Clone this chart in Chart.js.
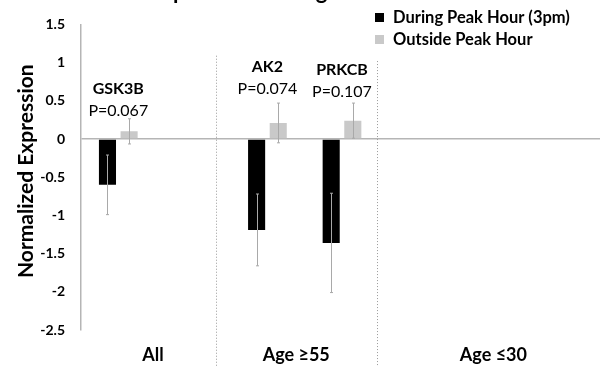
<!DOCTYPE html>
<html>
<head>
<meta charset="utf-8">
<script src="https://cdn.jsdelivr.net/npm/chart.js@4.4.1/dist/chart.umd.min.js"></script>
<style>
  html, body { margin: 0; padding: 0; background: #fff; overflow: hidden; }
  #wrap { position: relative; width: 603px; height: 367px; }
</style>
</head>
<body>
<div id="wrap"><canvas id="c"></canvas></div>
<script>
// Gene slots along the x axis (empty slots keep the spacing between groups)
const slots = ['GSK3B', '', 'AK2', 'PRKCB', '', '', ''];
const pValues = ['P=0.067', '', 'P=0.074', 'P=0.107', '', '', ''];

// Normalized expression, mean and error
const duringPeak     = [-0.60, null, -1.19, -1.36, null, null, null];
const duringPeakErr  = [0.39,  null, 0.47,  0.65,  null, null, null];
const outsidePeak    = [0.10,  null, 0.21,  0.24,  null, null, null];
const outsidePeakErr = [0.165, null, 0.26,  0.23,  null, null, null];

// Age groups shown under the plot
const groups = ['All', 'Age \u226555', 'Age \u226430'];

// Y axis ticks
const yTicks = [1.5, 1, 0.5, 0, -0.5, -1, -1.5, -2, -2.5];

const seriesNames = ['During Peak Hour (3pm)', 'Outside Peak Hour'];
const chartTitle = 'Expression During Peak Hour';
const yTitle = 'Normalized Expression';

// Placement of the annotations, in slot units (x) and value units (y)
const annot = {
  groupX: [0.466, 2.386, 5.03],
  dividerX: [1.312, 3.473],
  dividerTop: [1.09, 1.02],
  pLabelY: [0.375, null, 0.66, 0.62, null, null, null]
};

const FONT = 'Lato, "Open Sans", sans-serif';
const errs = [duringPeakErr, outsidePeakErr];

const annotations = {
  id: 'annotations',
  afterDatasetsDraw(chart) {
    const { ctx, chartArea } = chart;
    const x = chart.scales.x, y = chart.scales.y;

    // error bars
    ctx.save();
    ctx.strokeStyle = '#a9a9a9';
    ctx.lineWidth = 1;
    chart.data.datasets.forEach((ds, i) => {
      const meta = chart.getDatasetMeta(i);
      ds.data.forEach((v, j) => {
        const e = errs[i][j];
        if (v === null || e === null) return;
        const cx = Math.round(meta.data[j].x) + 0.5;
        const y1 = y.getPixelForValue(v + e), y2 = y.getPixelForValue(v - e);
        ctx.beginPath();
        ctx.moveTo(cx, y1); ctx.lineTo(cx, y2);
        ctx.moveTo(cx - 1.5, y1); ctx.lineTo(cx + 1.5, y1);
        ctx.moveTo(cx - 1.5, y2); ctx.lineTo(cx + 1.5, y2);
        ctx.stroke();
      });
    });
    ctx.restore();

    // dotted group dividers
    ctx.save();
    ctx.strokeStyle = '#9a9a9a';
    ctx.lineWidth = 1;
    ctx.setLineDash([1, 2]);
    annot.dividerX.forEach((d, k) => {
      const px = Math.round(x.getPixelForValue(d)) + 0.5;
      ctx.beginPath();
      ctx.moveTo(px, y.getPixelForValue(annot.dividerTop[k]));
      ctx.lineTo(px, chart.height);
      ctx.stroke();
    });
    ctx.restore();

    // gene names and p-values
    ctx.save();
    ctx.textAlign = 'center';
    ctx.textBaseline = 'middle';
    ctx.fillStyle = '#000';
    slots.forEach((name, j) => {
      if (!name) return;
      const cx = x.getPixelForValue(j);
      const py = y.getPixelForValue(annot.pLabelY[j]);
      ctx.font = 'bold 16px ' + FONT;
      ctx.fillText(name, cx, py - 22);
      ctx.font = '16px ' + FONT;
      ctx.fillText(pValues[j], cx, py);
    });

    // group labels
    ctx.font = 'bold 18px ' + FONT;
    groups.forEach((g, k) => {
      ctx.fillText(g, x.getPixelForValue(annot.groupX[k]), chartArea.bottom + 25);
    });

    // y axis title
    ctx.save();
    ctx.translate(26, (chartArea.top + chartArea.bottom) / 2 - 6);
    ctx.rotate(-Math.PI / 2);
    ctx.font = 'bold 21px ' + FONT;
    ctx.fillText(yTitle, 0, 0);
    ctx.restore();

    // legend
    ctx.textAlign = 'left';
    ctx.font = 'bold 16.5px ' + FONT;
    chart.data.datasets.forEach((ds, i) => {
      const ly = 13 + i * 22;
      ctx.fillStyle = ds.backgroundColor;
      ctx.fillRect(375, ly, 9, 9);
      ctx.fillStyle = '#000';
      ctx.fillText(ds.label, 393, ly + 5);
    });

    // chart title (sits mostly above the top edge)
    ctx.font = 'bold 22px ' + FONT;
    ctx.textBaseline = 'alphabetic';
    const startX = 173 - ctx.measureText('Ex').width;
    ctx.fillText(chartTitle, startX, -1);
    ctx.restore();
  }
};

new Chart(document.getElementById('c'), {
  type: 'bar',
  data: {
    labels: slots,
    datasets: [
      { label: seriesNames[0], data: duringPeak, backgroundColor: '#000000',
        barPercentage: 0.79, categoryPercentage: 0.58 },
      { label: seriesNames[1], data: outsidePeak, backgroundColor: '#c9c9c9',
        barPercentage: 0.79, categoryPercentage: 0.58 }
    ]
  },
  options: {
    responsive: true,
    maintainAspectRatio: false,
    animation: false,
    layout: { padding: { top: 22, bottom: 37, left: 0, right: 0 } },
    plugins: { legend: { display: false }, tooltip: { enabled: false }, title: { display: false } },
    scales: {
      x: { display: false },
      y: {
        min: -2.5, max: 1.5,
        afterFit(scale) { scale.width = 81; },
        afterBuildTicks(scale) { scale.ticks = yTicks.map(v => ({ value: v })); },
        ticks: {
          font: { family: FONT, size: 14, weight: 'bold' }, color: '#000', padding: 16,
          callback: v => String(v)
        },
        grid: {
          drawTicks: false,
          color: c => (c.tick && c.tick.value === 0) ? '#b5b5b5' : 'rgba(0,0,0,0)',
          lineWidth: 1.5
        },
        border: { display: true, color: '#b5b5b5', width: 1.5 }
      }
    }
  },
  plugins: [annotations]
});
</script>
</body>
</html>
